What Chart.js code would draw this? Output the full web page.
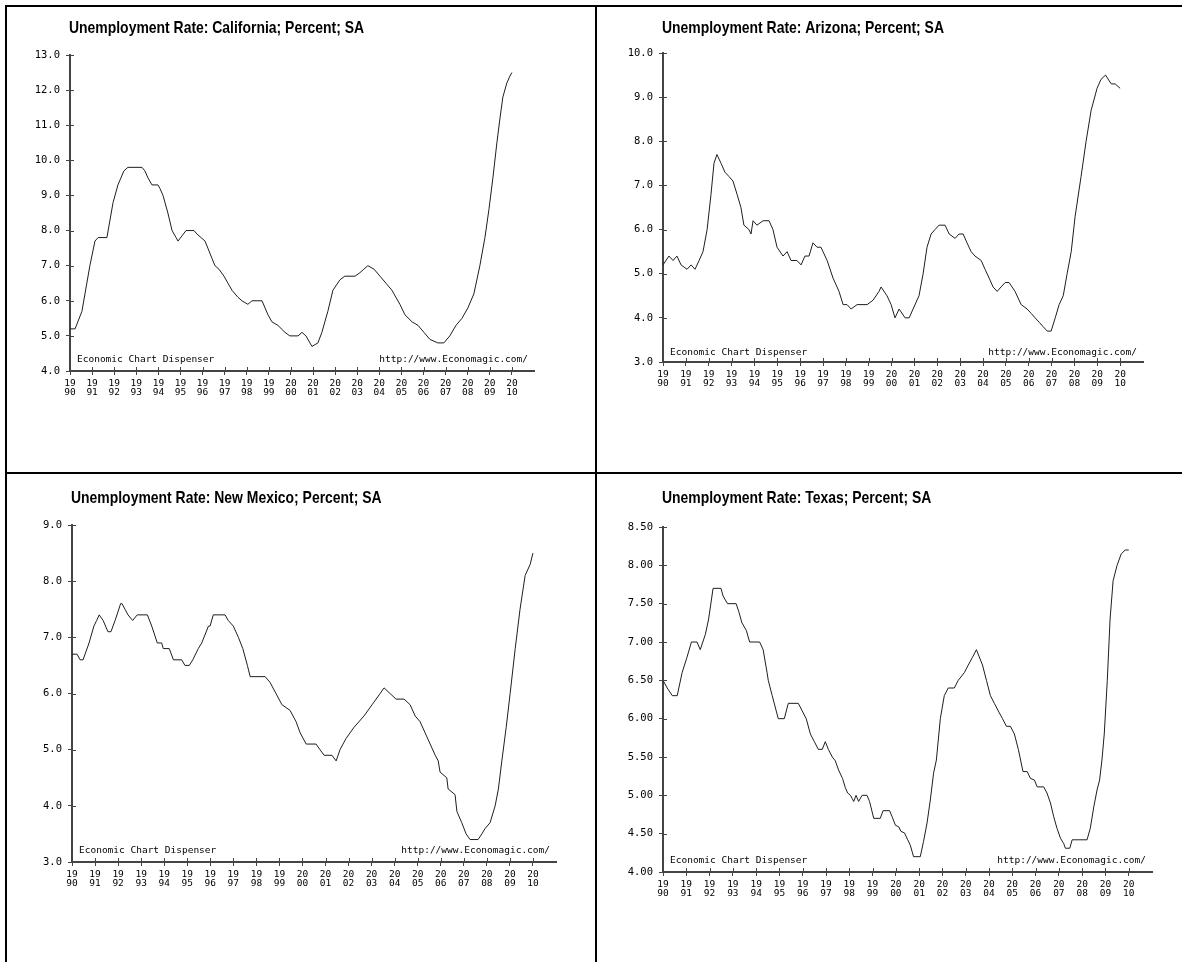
<!DOCTYPE html>
<html>
<head>
<meta charset="utf-8">
<title>Unemployment Rate: California, Arizona, New Mexico, Texas</title>
<script src="https://cdn.jsdelivr.net/npm/chart.js@4.4.1/dist/chart.umd.min.js"></script>
<style>
  body { margin: 0; background: #fff; }
  #page { position: relative; width: 1182px; height: 962px; overflow: hidden; background: #fff; }
  .rule { position: absolute; background: #000; }
  canvas { position: absolute; }
</style>
</head>
<body>
<div id="page">
  <div class="rule" style="left:5px;top:5px;width:2px;height:957px"></div>
  <div class="rule" style="left:5px;top:5px;width:1177px;height:2px"></div>
  <div class="rule" style="left:595px;top:5px;width:2px;height:957px"></div>
  <div class="rule" style="left:5px;top:472px;width:1177px;height:2px"></div>
  <canvas id="caChart" width="588" height="465" style="left:7px;top:7px"></canvas>
  <canvas id="azChart" width="585" height="465" style="left:597px;top:7px"></canvas>
  <canvas id="nmChart" width="588" height="488" style="left:7px;top:474px"></canvas>
  <canvas id="txChart" width="585" height="488" style="left:597px;top:474px"></canvas>
</div>
<script>
// values (year, percent)
var caYears = [
  1990.00, 1990.23, 1990.54, 1990.90, 1991.13, 1991.27, 1991.67, 1991.95, 1992.17, 1992.44,
  1992.62, 1993.26, 1993.39, 1993.53, 1993.71, 1993.98, 1994.07, 1994.21, 1994.43, 1994.62,
  1994.80, 1994.89, 1995.25, 1995.61, 1995.75, 1995.93, 1996.11, 1996.24, 1996.43, 1996.56,
  1996.74, 1996.97, 1997.15, 1997.33, 1997.60, 1997.78, 1998.05, 1998.24, 1998.69, 1998.96,
  1999.14, 1999.41, 1999.73, 1999.95, 2000.32, 2000.50, 2000.68, 2000.95, 2001.22, 2001.40,
  2001.67, 2001.90, 2002.22, 2002.44, 2002.90, 2003.12, 2003.30, 2003.48, 2003.76, 2004.03,
  2004.30, 2004.57, 2004.75, 2004.93, 2005.16, 2005.48, 2005.75, 2006.02, 2006.29, 2006.65,
  2006.92, 2007.19, 2007.47, 2007.74, 2008.01, 2008.28, 2008.55, 2008.78, 2008.96, 2009.14,
  2009.32, 2009.46, 2009.59, 2009.77, 2009.91, 2010.00
];
var caRates = [
  5.2, 5.2, 5.7, 7.0, 7.7, 7.8, 7.8, 8.8, 9.3, 9.7,
  9.8, 9.8, 9.7, 9.5, 9.3, 9.3, 9.2, 9.0, 8.5, 8.0,
  7.8, 7.7, 8.0, 8.0, 7.9, 7.8, 7.7, 7.5, 7.2, 7.0,
  6.9, 6.7, 6.5, 6.3, 6.1, 6.0, 5.9, 6.0, 6.0, 5.6,
  5.4, 5.3, 5.1, 5.0, 5.0, 5.1, 5.0, 4.7, 4.8, 5.1,
  5.7, 6.3, 6.6, 6.7, 6.7, 6.8, 6.9, 7.0, 6.9, 6.7,
  6.5, 6.3, 6.1, 5.9, 5.6, 5.4, 5.3, 5.1, 4.9, 4.8,
  4.8, 5.0, 5.3, 5.5, 5.8, 6.2, 7.0, 7.8, 8.6, 9.5,
  10.5, 11.2, 11.8, 12.2, 12.4, 12.5
];

var azYears = [
  1990.00, 1990.26, 1990.44, 1990.61, 1990.79, 1991.05, 1991.23, 1991.40, 1991.58, 1991.75,
  1991.93, 1992.10, 1992.23, 1992.36, 1992.54, 1992.71, 1992.89, 1993.06, 1993.24, 1993.41,
  1993.54, 1993.76, 1993.85, 1993.94, 1994.11, 1994.38, 1994.64, 1994.81, 1994.99, 1995.25,
  1995.43, 1995.60, 1995.86, 1996.04, 1996.21, 1996.39, 1996.56, 1996.74, 1996.91, 1997.18,
  1997.44, 1997.70, 1997.88, 1998.05, 1998.23, 1998.49, 1998.93, 1999.19, 1999.45, 1999.54,
  1999.80, 1999.98, 2000.15, 2000.33, 2000.59, 2000.77, 2000.94, 2001.20, 2001.38, 2001.55,
  2001.73, 2001.90, 2002.08, 2002.34, 2002.52, 2002.78, 2002.95, 2003.13, 2003.30, 2003.48,
  2003.65, 2003.92, 2004.09, 2004.27, 2004.44, 2004.62, 2004.79, 2004.97, 2005.14, 2005.40,
  2005.67, 2005.93, 2006.11, 2006.28, 2006.46, 2006.63, 2006.81, 2006.98, 2007.16, 2007.33,
  2007.51, 2007.68, 2007.86, 2008.03, 2008.29, 2008.51, 2008.73, 2008.99, 2009.16, 2009.36,
  2009.61, 2009.78, 2010.00
];
var azRates = [
  5.2, 5.4, 5.3, 5.4, 5.2, 5.1, 5.2, 5.1, 5.3, 5.5,
  6.0, 6.8, 7.5, 7.7, 7.5, 7.3, 7.2, 7.1, 6.8, 6.5,
  6.1, 6.0, 5.9, 6.2, 6.1, 6.2, 6.2, 6.0, 5.6, 5.4,
  5.5, 5.3, 5.3, 5.2, 5.4, 5.4, 5.7, 5.6, 5.6, 5.3,
  4.9, 4.6, 4.3, 4.3, 4.2, 4.3, 4.3, 4.4, 4.6, 4.7,
  4.5, 4.3, 4.0, 4.2, 4.0, 4.0, 4.2, 4.5, 5.0, 5.6,
  5.9, 6.0, 6.1, 6.1, 5.9, 5.8, 5.9, 5.9, 5.7, 5.5,
  5.4, 5.3, 5.1, 4.9, 4.7, 4.6, 4.7, 4.8, 4.8, 4.6,
  4.3, 4.2, 4.1, 4.0, 3.9, 3.8, 3.7, 3.7, 4.0, 4.3,
  4.5, 5.0, 5.5, 6.3, 7.2, 8.0, 8.7, 9.2, 9.4, 9.5,
  9.3, 9.3, 9.2
];

var nmYears = [
  1990.00, 1990.22, 1990.35, 1990.48, 1990.74, 1990.95, 1991.07, 1991.18, 1991.35, 1991.56,
  1991.69, 1991.87, 1992.11, 1992.17, 1992.30, 1992.43, 1992.63, 1992.83, 1993.27, 1993.46,
  1993.70, 1993.89, 1993.96, 1994.22, 1994.40, 1994.76, 1994.90, 1995.09, 1995.24, 1995.48,
  1995.63, 1995.92, 1995.99, 1996.13, 1996.64, 1996.78, 1997.00, 1997.22, 1997.41, 1997.61,
  1997.73, 1998.38, 1998.59, 1998.85, 1999.11, 1999.46, 1999.72, 1999.90, 2000.16, 2000.59,
  2000.76, 2000.94, 2001.28, 2001.46, 2001.63, 2001.89, 2002.24, 2002.67, 2003.02, 2003.37,
  2003.54, 2003.80, 2004.06, 2004.41, 2004.67, 2004.89, 2005.10, 2005.32, 2005.54, 2005.76,
  2005.89, 2005.97, 2006.26, 2006.32, 2006.62, 2006.70, 2006.91, 2007.10, 2007.27, 2007.62,
  2007.78, 2007.93, 2008.14, 2008.36, 2008.50, 2008.65, 2008.84, 2009.01, 2009.23, 2009.44,
  2009.66, 2009.88, 2010.00
];
var nmRates = [
  6.7, 6.7, 6.6, 6.6, 6.9, 7.2, 7.3, 7.4, 7.3, 7.1,
  7.1, 7.3, 7.6, 7.6, 7.5, 7.4, 7.3, 7.4, 7.4, 7.2,
  6.9, 6.9, 6.8, 6.8, 6.6, 6.6, 6.5, 6.5, 6.6, 6.8,
  6.9, 7.2, 7.2, 7.4, 7.4, 7.3, 7.2, 7.0, 6.8, 6.5,
  6.3, 6.3, 6.2, 6.0, 5.8, 5.7, 5.5, 5.3, 5.1, 5.1,
  5.0, 4.9, 4.9, 4.8, 5.0, 5.2, 5.4, 5.6, 5.8, 6.0,
  6.1, 6.0, 5.9, 5.9, 5.8, 5.6, 5.5, 5.3, 5.1, 4.9,
  4.8, 4.6, 4.5, 4.3, 4.2, 3.9, 3.7, 3.5, 3.4, 3.4,
  3.5, 3.6, 3.7, 4.0, 4.3, 4.8, 5.4, 6.0, 6.8, 7.5,
  8.1, 8.3, 8.5
];

var txYears = [
  1990.00, 1990.18, 1990.40, 1990.61, 1990.82, 1991.03, 1991.22, 1991.46, 1991.60, 1991.82,
  1991.96, 1992.15, 1992.49, 1992.58, 1992.77, 1993.14, 1993.25, 1993.39, 1993.58, 1993.72,
  1994.15, 1994.30, 1994.47, 1994.52, 1994.69, 1994.95, 1995.21, 1995.38, 1995.81, 1995.98,
  1996.15, 1996.33, 1996.50, 1996.67, 1996.84, 1996.97, 1997.10, 1997.27, 1997.40, 1997.54,
  1997.71, 1997.83, 1997.93, 1998.05, 1998.12, 1998.19, 1998.29, 1998.40, 1998.55, 1998.76,
  1998.87, 1999.05, 1999.33, 1999.45, 1999.73, 1999.84, 1999.98, 2000.12, 2000.22, 2000.37,
  2000.51, 2000.62, 2000.76, 2001.05, 2001.19, 2001.34, 2001.48, 2001.62, 2001.74, 2001.91,
  2002.08, 2002.25, 2002.51, 2002.68, 2002.94, 2003.11, 2003.29, 2003.46, 2003.72, 2003.89,
  2004.06, 2004.23, 2004.40, 2004.58, 2004.75, 2004.92, 2005.09, 2005.26, 2005.46, 2005.64,
  2005.78, 2005.95, 2006.07, 2006.35, 2006.49, 2006.64, 2006.78, 2006.92, 2007.07, 2007.21,
  2007.28, 2007.47, 2007.57, 2008.21, 2008.35, 2008.50, 2008.64, 2008.75, 2008.85, 2008.95,
  2009.08, 2009.20, 2009.33, 2009.50, 2009.68, 2009.85, 2010.00
];
var txRates = [
  6.5, 6.4, 6.3, 6.3, 6.6, 6.8, 7.0, 7.0, 6.9, 7.1,
  7.3, 7.7, 7.7, 7.6, 7.5, 7.5, 7.4, 7.25, 7.15, 7.0,
  7.0, 6.9, 6.6, 6.5, 6.3, 6.0, 6.0, 6.2, 6.2, 6.1,
  6.0, 5.8, 5.7, 5.6, 5.6, 5.7, 5.6, 5.5, 5.45, 5.33,
  5.22, 5.1, 5.03, 5.0, 4.96, 4.92, 5.0, 4.92, 5.0, 5.0,
  4.92, 4.7, 4.7, 4.8, 4.8, 4.72, 4.61, 4.59, 4.53, 4.51,
  4.42, 4.35, 4.2, 4.2, 4.4, 4.64, 4.94, 5.29, 5.46, 6.0,
  6.3, 6.4, 6.4, 6.5, 6.6, 6.7, 6.8, 6.9, 6.7, 6.5,
  6.3, 6.2, 6.1, 6.0, 5.9, 5.9, 5.8, 5.6, 5.31, 5.31,
  5.22, 5.2, 5.11, 5.11, 5.03, 4.9, 4.72, 4.57, 4.44, 4.37,
  4.31, 4.31, 4.42, 4.42, 4.57, 4.85, 5.07, 5.2, 5.46, 5.8,
  6.5, 7.3, 7.8, 8.0, 8.15, 8.2, 8.2
];

var yearFirst = 1990, yearLast = 2010, yearAxisEnd = 2011;

var MONO = '"DejaVu Sans Mono", "Liberation Mono", monospace';
var TITLE_FONT = 'bold 17px "Liberation Sans", Arial, sans-serif';
var TITLE_SQUEEZE = 0.82;   // narrow face, like the original gif
var Y_W = 60, X_H = 32;
var INK = '#444';

// little cross ticks: Chart.js only draws the outer half
var crossTicks = {
  id: 'crossTicks',
  afterDraw: function (chart) {
    var ctx = chart.ctx, a = chart.chartArea;
    var xs = chart.scales.x, ys = chart.scales.y;
    ctx.save();
    ctx.strokeStyle = INK;
    ctx.lineWidth = 1;
    ctx.beginPath();
    xs.ticks.forEach(function (t) {
      var px = Math.round(xs.getPixelForValue(t.value)) + 0.5;
      ctx.moveTo(px, a.bottom - 4);
      ctx.lineTo(px, a.bottom);
    });
    ys.ticks.forEach(function (t) {
      var py = Math.round(ys.getPixelForValue(t.value)) + 0.5;
      ctx.moveTo(a.left, py);
      ctx.lineTo(a.left + 4, py);
    });
    ctx.stroke();
    ctx.restore();
  }
};

// title, plus the two credit lines sitting on the x axis
var notes = {
  id: 'notes',
  afterDraw: function (chart, args, opts) {
    var ctx = chart.ctx, a = chart.chartArea;
    ctx.save();
    ctx.fillStyle = '#000';
    ctx.textBaseline = 'alphabetic';

    ctx.save();
    ctx.font = TITLE_FONT;
    ctx.textAlign = 'left';
    ctx.translate(a.left - 1, opts.titleBase);
    ctx.scale(TITLE_SQUEEZE, 1);
    ctx.fillText(opts.title, 0, 0);
    ctx.restore();

    ctx.font = '9.5px ' + MONO;
    ctx.textAlign = 'left';
    ctx.fillText('Economic Chart Dispenser', a.left + 7, a.bottom - opts.dy);
    ctx.textAlign = 'right';
    ctx.fillText('http://www.Economagic.com/', a.right - 6, a.bottom - opts.dy);
    ctx.restore();
  }
};

function drawPanel(id, g, title, years, rates, yMin, yMax, yStep, digits) {
  var points = years.map(function (yr, i) { return { x: yr, y: rates[i] }; });
  return new Chart(document.getElementById(id).getContext('2d'), {
    type: 'line',
    data: {
      datasets: [{
        label: title,
        data: points,
        borderColor: '#1e1e1e',
        borderWidth: 1,
        pointRadius: 0,
        tension: 0,
        fill: false
      }]
    },
    options: {
      responsive: false,
      animation: false,
      layout: {
        padding: {
          left: g.axisX - g.L - Y_W,
          right: g.L + g.W - g.axisEnd,
          top: g.yTop - g.T,
          bottom: g.T + g.H - g.yBottom - X_H
        }
      },
      plugins: {
        legend: { display: false },
        tooltip: { enabled: false },
        title: { display: false },
        notes: { dy: g.noteDy, title: title, titleBase: g.titleBase - g.T }
      },
      scales: {
        x: {
          type: 'linear',
          min: yearFirst,
          max: yearAxisEnd,
          afterBuildTicks: function (s) {
            s.ticks = s.ticks.filter(function (t) { return t.value <= yearLast; });
          },
          afterFit: function (s) { s.height = X_H; },
          ticks: {
            stepSize: 1,
            autoSkip: false,
            maxRotation: 0,
            padding: 4,
            color: '#000',
            font: { family: MONO, size: 9.5, lineHeight: 0.95 },
            callback: function (v) {
              var s = String(v);
              return [s.slice(0, 2), s.slice(2)];
            }
          },
          grid: { drawOnChartArea: false, drawTicks: true, tickLength: 4, color: INK },
          border: { display: true, color: INK, width: 2 }
        },
        y: {
          min: yMin,
          max: yMax,
          afterFit: function (s) { s.width = Y_W; },
          ticks: {
            stepSize: yStep,
            padding: 6,
            color: '#000',
            font: { family: MONO, size: 10.5 },
            callback: function (v) { return Number(v).toFixed(digits); }
          },
          grid: { drawOnChartArea: false, drawTicks: true, tickLength: 4, color: INK },
          border: { display: true, color: INK, width: 2 }
        }
      }
    },
    plugins: [crossTicks, notes]
  });
}

drawPanel('caChart',
  { L: 7, T: 7, W: 588, H: 465, axisX: 70, axisEnd: 534, yTop: 55, yBottom: 371, titleBase: 33, noteDy: 9 },
  'Unemployment Rate: California; Percent; SA', caYears, caRates, 4, 13, 1, 1);
drawPanel('azChart',
  { L: 597, T: 7, W: 585, H: 465, axisX: 663, axisEnd: 1143, yTop: 53, yBottom: 362, titleBase: 33, noteDy: 7 },
  'Unemployment Rate: Arizona; Percent; SA', azYears, azRates, 3, 10, 1, 1);
drawPanel('nmChart',
  { L: 7, T: 474, W: 588, H: 488, axisX: 72, axisEnd: 556, yTop: 525, yBottom: 862, titleBase: 503, noteDy: 9.5 },
  'Unemployment Rate: New Mexico; Percent; SA', nmYears, nmRates, 3, 9, 1, 1);
drawPanel('txChart',
  { L: 597, T: 474, W: 585, H: 488, axisX: 663, axisEnd: 1152, yTop: 527, yBottom: 872, titleBase: 503, noteDy: 9.5 },
  'Unemployment Rate: Texas; Percent; SA', txYears, txRates, 4, 8.5, 0.5, 2);
</script>
</body>
</html>
